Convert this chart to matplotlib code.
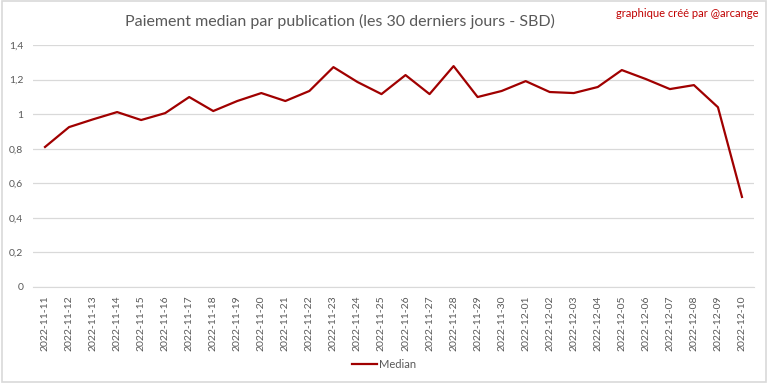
import matplotlib
matplotlib.use("Agg")
import matplotlib.pyplot as plt
from matplotlib.patches import Rectangle

dates = ['2022-11-11', '2022-11-12', '2022-11-13', '2022-11-14', '2022-11-15',
         '2022-11-16', '2022-11-17', '2022-11-18', '2022-11-19', '2022-11-20',
         '2022-11-21', '2022-11-22', '2022-11-23', '2022-11-24', '2022-11-25',
         '2022-11-26', '2022-11-27', '2022-11-28', '2022-11-29', '2022-11-30',
         '2022-12-01', '2022-12-02', '2022-12-03', '2022-12-04', '2022-12-05',
         '2022-12-06', '2022-12-07', '2022-12-08', '2022-12-09', '2022-12-10']
median = [0.81, 0.925, 0.97, 1.012, 0.966, 1.006, 1.099, 1.018, 1.076, 1.122,
          1.076, 1.134, 1.272, 1.186, 1.116, 1.226, 1.116, 1.278, 1.099, 1.134,
          1.191, 1.128, 1.122, 1.157, 1.255, 1.203, 1.145, 1.168, 1.040, 0.521]
yticks = [0, 0.2, 0.4, 0.6, 0.8, 1.0, 1.2, 1.4]
ytick_labels = ['0', '0,2', '0,4', '0,6', '0,8', '1', '1,2', '1,4']

plt.rcParams['font.family'] = ['Lato', 'DejaVu Sans']
grey = '#595959'

fig = plt.figure(figsize=(7.68, 3.84), dpi=100)
fig.patches.append(Rectangle((0.002, 0.004), 0.996, 0.993, transform=fig.transFigure,
                             fill=False, edgecolor='#d9d9d9', linewidth=1.2))
ax = fig.add_axes([33 / 768, 1 - 287 / 384, 721 / 768, 242 / 384])

x = list(range(len(dates)))
ax.plot(x, median, color='#a00000', linewidth=1.6, label='Median')

ax.set_xlim(-0.5, len(dates) - 0.5)
ax.set_ylim(0, 1.4)
ax.set_yticks(yticks)
ax.set_yticklabels(ytick_labels)
ax.set_xticks(x)
ax.set_xticklabels(dates, rotation=90)
ax.tick_params(axis='both', length=0, colors=grey, labelsize=7.5)
ax.tick_params(axis='x', pad=6)
ax.tick_params(axis='y', pad=7)
ax.grid(axis='y', color='#d9d9d9', linewidth=0.9)
ax.set_axisbelow(True)
for s in ['top', 'right', 'left']:
    ax.spines[s].set_visible(False)
ax.spines['bottom'].set_color('#d9d9d9')

fig.text(0.443, 0.945, 'Paiement median par publication (les 30 derniers jours - SBD)',
         ha='center', va='center', fontsize=11.5, color=grey)
fig.text(0.988, 0.966, 'graphique créé par @arcange', ha='right', va='center',
         fontsize=8, color='#c00000')
fig.legend(loc='center', bbox_to_anchor=(0.5, 0.05), frameon=False, fontsize=8,
           labelcolor=grey, handlelength=2.2, handletextpad=0.2)

fig.savefig('out.png', dpi=100)
